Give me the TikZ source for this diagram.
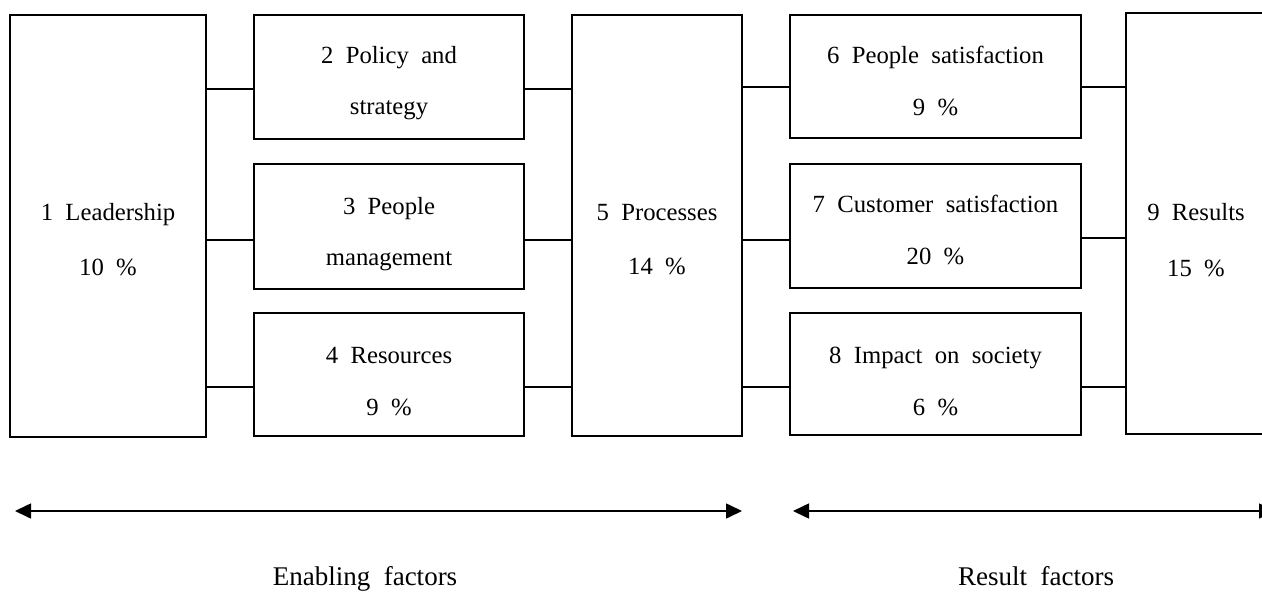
\documentclass[tikz,border=0pt]{standalone}
\usepackage{fontspec}
\setmainfont{Liberation Serif}[WordSpace=2]
\usetikzlibrary{arrows.meta}
\begin{document}
\begin{tikzpicture}[x=1pt,y=-1pt,
  box/.style={draw,line width=1.6pt,inner sep=0pt},
  conn/.style={line width=1.4pt},
  txt/.style={font=\fontsize{24.7}{28}\selectfont,inner sep=0pt,anchor=base},
  big/.style={font=\fontsize{27}{30}\selectfont,inner sep=0pt,anchor=base},
  span/.style={line width=1.6pt,{Triangle[length=16pt,width=15pt]}-{Triangle[length=16pt,width=15pt]}}]
\useasboundingbox (0,0) rectangle (1262,592);
\begin{scope}
\clip (0,0) rectangle (1262,592);
% boxes
\node[box,minimum width=196pt,minimum height=422pt] (b1) at (108,226) {};
\node[box,minimum width=270pt,minimum height=124pt] (b2) at (389,77) {};
\node[box,minimum width=270pt,minimum height=125pt] (b3) at (389,226.5) {};
\node[box,minimum width=270pt,minimum height=123pt] (b4) at (389,374.5) {};
\node[box,minimum width=170pt,minimum height=421pt] (b5) at (657,225.5) {};
\node[box,minimum width=291pt,minimum height=123pt] (b6) at (935.5,76.5) {};
\node[box,minimum width=291pt,minimum height=124pt] (b7) at (935.5,226) {};
\node[box,minimum width=291pt,minimum height=122pt] (b8) at (935.5,374) {};
\node[box,minimum width=140pt,minimum height=421pt] (b9) at (1196,223.5) {};
% connector rows
\coordinate (r1) at (0,89);
\coordinate (r1b) at (0,87);
\coordinate (r2) at (0,240);
\coordinate (r2b) at (0,238);
\coordinate (r3) at (0,387);
\draw[conn] (b1.east |- r1) -- (b2.west |- r1);
\draw[conn] (b1.east |- r2) -- (b3.west |- r2);
\draw[conn] (b1.east |- r3) -- (b4.west |- r3);
\draw[conn] (b2.east |- r1) -- (b5.west |- r1);
\draw[conn] (b3.east |- r2) -- (b5.west |- r2);
\draw[conn] (b4.east |- r3) -- (b5.west |- r3);
\draw[conn] (b5.east |- r1b) -- (b6.west |- r1b);
\draw[conn] (b5.east |- r2) -- (b7.west |- r2);
\draw[conn] (b5.east |- r3) -- (b8.west |- r3);
\draw[conn] (b6.east |- r1b) -- (b9.west |- r1b);
\draw[conn] (b7.east |- r2b) -- (b9.west |- r2b);
\draw[conn] (b8.east |- r3) -- (b9.west |- r3);
% texts (base-anchored)
\node[txt] (t1a) at (108,220) {1 Leadership};
\node[txt] (t1b) at (108,275) {10 \%};
\node[txt] (t2a) at (389,63) {2 Policy and};
\node[txt] (t2b) at (389,114) {strategy};
\node[txt] (t3a) at (389,214) {3 People};
\node[txt] (t3b) at (389,265) {management};
\node[txt] (t4a) at (389,363) {4 Resources};
\node[txt] (t4b) at (389,415) {9 \%};
\node[txt] (t5a) at (657,220) {5 Processes};
\node[txt] (t5b) at (657,274) {14 \%};
\node[txt] (t6a) at (935.5,63) {6 People satisfaction};
\node[txt] (t6b) at (935.5,115) {9 \%};
\node[txt] (t7a) at (935.5,212) {7 Customer satisfaction};
\node[txt] (t7b) at (935.5,264) {20 \%};
\node[txt] (t8a) at (935.5,363) {8 Impact on society};
\node[txt] (t8b) at (935.5,415) {6 \%};
\node[txt] (t9a) at (1196,220) {9 Results};
\node[txt] (t9b) at (1196,276) {15 \%};
% spans
\coordinate (e1) at (15,511);
\coordinate (e2) at (742,511);
\coordinate (f1) at (793,511);
\coordinate (f2) at (1275,511);
\draw[span] (e1) -- (e2);
\draw[span] (f1) -- (f2);
\node[big] (enab) at (365,585) {Enabling factors};
\node[big] (res) at (1036,585) {Result factors};
\end{scope}
\end{tikzpicture}
\end{document}
